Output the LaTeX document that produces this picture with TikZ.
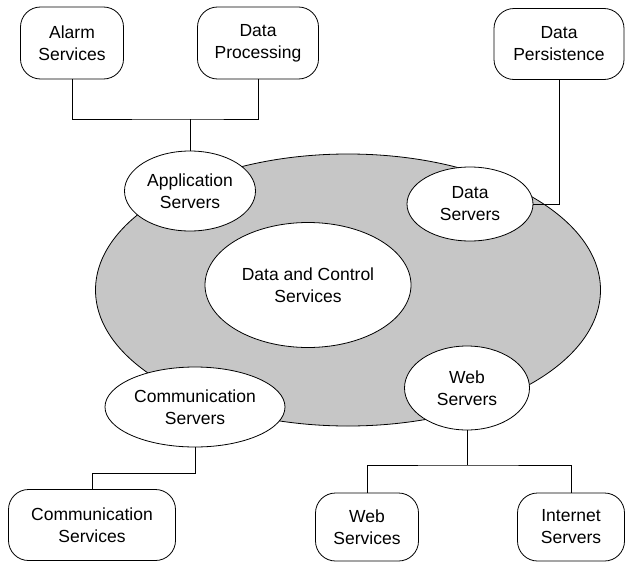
\documentclass[tikz,border=0pt]{standalone}
\usepackage{fontspec}
\setmainfont{Liberation Sans}
\usetikzlibrary{shapes.geometric}
\tikzset{
  svc/.style={draw,line width=0.8pt,rounded corners=20pt,fill=white,align=center,
              inner sep=0pt,font=\fontsize{17.5}{22}\selectfont},
  srv/.style={draw,line width=0.8pt,ellipse,fill=white,align=center,inner sep=0pt,
              font=\fontsize{17.5}{22}\selectfont},
  link/.style={draw,line width=0.8pt},
}
\begin{document}
\begin{tikzpicture}[x=1pt,y=-1pt]
    \useasboundingbox (0,0) rectangle (626,562);
    % ring
    \node[srv,fill=gray!45,minimum width=505,minimum height=272] (ring) at (348,290) {};
    \node[srv,minimum width=206,minimum height=125] (core) at (308,285) {Data and Control\\Services};
    % servers
    \node[srv,minimum width=131,minimum height=80] (app) at (190,191) {Application\\Servers};
    \node[srv,minimum width=126,minimum height=74] (dsrv) at (470,204) {Data\\Servers};
    \node[srv,minimum width=180,minimum height=80] (csrv) at (195,407) {Communication\\Servers};
    \node[srv,minimum width=125,minimum height=84] (wsrv) at (467,388) {Web\\Servers};
    % services
    \node[svc,minimum width=103,minimum height=72] (alarm) at (72,43) {Alarm\\Services};
    \node[svc,minimum width=121,minimum height=72] (proc) at (258,43) {Data\\Processing};
    \node[svc,minimum width=130,minimum height=71] (persist) at (559,44) {Data\\Persistence};
    \node[svc,minimum width=167,minimum height=71] (csvc) at (92,525) {Communication\\Services};
    \node[svc,minimum width=103,minimum height=68] (wsvc) at (367,527) {Web\\Services};
    \node[svc,minimum width=107,minimum height=68] (inet) at (571,527) {Internet\\Servers};
    % links
    \coordinate (j1) at (190,119);
    \coordinate (j2) at (195,473);
    \coordinate (j3) at (467,465);
    \draw[link] (alarm.south) |- (j1) -| (proc.south);
    \draw[link] (j1) -- (app.north);
    \draw[link] (persist.south) |- (dsrv.east);
    \draw[link] (csrv.south) -- (j2) -| (csvc.north);
    \draw[link] (wsrv.south) -- (j3);
    \draw[link] (wsvc.north) |- (j3) -| (inet.north);
\end{tikzpicture}
\end{document}
